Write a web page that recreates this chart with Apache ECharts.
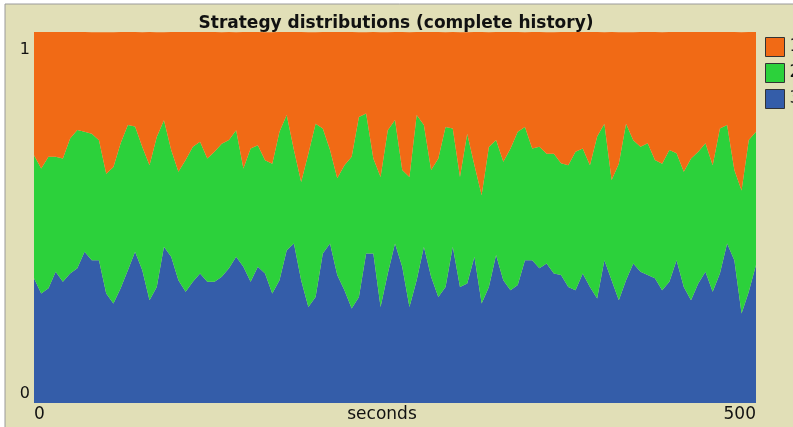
<!DOCTYPE html>
<html>
<head>
<meta charset="utf-8">
<script src="https://cdn.jsdelivr.net/npm/echarts@6/dist/echarts.min.js"></script>
<style>
  html, body { margin: 0; padding: 0; background: #fff; }
  #chart { width: 793px; height: 427px; }
</style>
</head>
<body>
<div id="chart"></div>
<script>
// one sample every 5 seconds, 0..500
var stepSeconds = 5;

// share of strategy 3 (blue, bottom)
var share3 = [
  0.336, 0.295, 0.309, 0.354, 0.327, 0.349, 0.363, 0.408, 0.385, 0.385,
  0.295, 0.268, 0.309, 0.358, 0.408, 0.358, 0.277, 0.313, 0.421, 0.394,
  0.331, 0.300, 0.327, 0.349, 0.327, 0.327, 0.340, 0.363, 0.394, 0.367,
  0.327, 0.367, 0.349, 0.295, 0.331, 0.412, 0.430, 0.331, 0.259, 0.286,
  0.403, 0.430, 0.345, 0.304, 0.255, 0.286, 0.403, 0.403, 0.259, 0.349,
  0.430, 0.367, 0.259, 0.331, 0.421, 0.340, 0.286, 0.313, 0.421, 0.313,
  0.322, 0.394, 0.268, 0.313, 0.399, 0.331, 0.304, 0.318, 0.385, 0.385,
  0.363, 0.376, 0.349, 0.345, 0.313, 0.304, 0.349, 0.313, 0.282, 0.385,
  0.331, 0.277, 0.331, 0.376, 0.354, 0.345, 0.336, 0.304, 0.327, 0.385,
  0.313, 0.277, 0.322, 0.354, 0.300, 0.349, 0.430, 0.385, 0.241, 0.300,
  0.372
];

// share of strategy 2 (green, middle)
var share2 = [
  0.332, 0.337, 0.355, 0.310, 0.332, 0.364, 0.373, 0.323, 0.341, 0.323,
  0.323, 0.368, 0.391, 0.391, 0.337, 0.332, 0.364, 0.404, 0.341, 0.288,
  0.292, 0.355, 0.364, 0.355, 0.332, 0.350, 0.359, 0.346, 0.341, 0.265,
  0.359, 0.328, 0.305, 0.350, 0.400, 0.364, 0.252, 0.265, 0.413, 0.467,
  0.337, 0.252, 0.261, 0.337, 0.409, 0.485, 0.377, 0.256, 0.350, 0.386,
  0.333, 0.261, 0.350, 0.445, 0.328, 0.288, 0.373, 0.431, 0.319, 0.296,
  0.404, 0.247, 0.292, 0.377, 0.310, 0.319, 0.382, 0.413, 0.359, 0.301,
  0.328, 0.296, 0.323, 0.301, 0.328, 0.373, 0.337, 0.328, 0.436, 0.368,
  0.270, 0.368, 0.422, 0.332, 0.337, 0.355, 0.319, 0.341, 0.355, 0.288,
  0.310, 0.382, 0.355, 0.346, 0.341, 0.391, 0.319, 0.243, 0.332, 0.409,
  0.359
];

// share of strategy 1 (orange, top)
var share1 = [
  0.332, 0.368, 0.336, 0.336, 0.341, 0.287, 0.264, 0.269, 0.273, 0.291,
  0.381, 0.363, 0.300, 0.251, 0.255, 0.309, 0.359, 0.282, 0.237, 0.318,
  0.377, 0.345, 0.309, 0.296, 0.341, 0.323, 0.300, 0.291, 0.264, 0.368,
  0.314, 0.305, 0.345, 0.354, 0.269, 0.224, 0.318, 0.404, 0.327, 0.246,
  0.260, 0.318, 0.395, 0.359, 0.336, 0.228, 0.219, 0.341, 0.390, 0.264,
  0.237, 0.372, 0.390, 0.224, 0.251, 0.372, 0.341, 0.255, 0.260, 0.390,
  0.273, 0.359, 0.440, 0.309, 0.291, 0.350, 0.314, 0.269, 0.255, 0.314,
  0.309, 0.327, 0.327, 0.354, 0.359, 0.323, 0.314, 0.359, 0.282, 0.246,
  0.399, 0.354, 0.246, 0.291, 0.309, 0.300, 0.345, 0.354, 0.318, 0.327,
  0.377, 0.341, 0.323, 0.300, 0.359, 0.260, 0.251, 0.372, 0.426, 0.291,
  0.269
];

var yTicks = [0, 1];
var names = ['1', '2', '3'];
var colors = { '1': '#f16a15', '2': '#2cd13b', '3': '#345da9' };

var seconds = share3.map(function (v, i) { return String(i * stepSeconds); });
var lastIndex = seconds.length - 1;

function areaSeries(name, arr) {
  return {
    name: name,
    type: 'line',
    stack: 'total',
    data: arr,
    symbol: 'none',
    silent: true,
    lineStyle: { width: 0 },
    areaStyle: { color: colors[name], opacity: 1 },
    itemStyle: { color: colors[name] }
  };
}

var chart = echarts.init(document.getElementById('chart'));
var option = {
  backgroundColor: '#ffffff',
  animation: false,
  graphic: [{
    type: 'rect',
    z: -10,
    shape: { x: 5, y: 4, width: 800, height: 430 },
    style: { fill: '#e1dfb7', stroke: '#9a9a9a', lineWidth: 1 }
  }],
  title: {
    text: 'Strategy distributions (complete history)',
    left: 391,
    textAlign: 'center',
    top: 10,
    textStyle: { fontFamily: 'DejaVu Sans', fontSize: 17, fontWeight: 'bold', color: '#111' }
  },
  legend: {
    data: names,
    orient: 'vertical',
    left: 760,
    top: 32,
    itemWidth: 19,
    itemHeight: 19,
    itemGap: 6,
    icon: 'rect',
    itemStyle: { borderColor: '#333', borderWidth: 1 },
    textStyle: { fontFamily: 'DejaVu Sans', fontSize: 17, color: '#111' }
  },
  grid: { left: 34, right: 37, top: 32, bottom: 24, outerBoundsMode: 'none', containLabel: false },
  xAxis: {
    type: 'category',
    data: seconds,
    boundaryGap: false,
    name: 'seconds',
    nameLocation: 'middle',
    nameGap: 3,
    nameMoveOverlap: false,
    nameTextStyle: {
      fontFamily: 'DejaVu Sans', fontSize: 17, color: '#111',
      verticalAlign: 'top', padding: [0, 26, 0, 0]
    },
    axisLine: { show: false },
    axisTick: { show: false },
    splitLine: { show: false },
    axisLabel: {
      margin: 3,
      fontFamily: 'DejaVu Sans',
      fontSize: 17,
      color: '#111',
      interval: function (index) { return index === 0 || index === lastIndex; },
      alignMinLabel: 'left',
      alignMaxLabel: 'right'
    }
  },
  yAxis: {
    type: 'value',
    min: yTicks[0],
    max: yTicks[1],
    interval: 1,
    axisLine: { show: false },
    axisTick: { show: false },
    splitLine: { show: false },
    axisLabel: {
      margin: 4,
      fontFamily: 'DejaVu Sans',
      fontSize: 16,
      color: '#111',
      verticalAlignMaxLabel: 'top',
      verticalAlignMinLabel: 'bottom',
      formatter: function (v) { return v === 1 ? '{hi|1}' : '{lo|0}'; },
      rich: {
        hi: { lineHeight: 36, fontSize: 16, fontFamily: 'DejaVu Sans', color: '#111' },
        lo: { lineHeight: 18, fontSize: 16, fontFamily: 'DejaVu Sans', color: '#111' }
      }
    }
  },
  series: [
    areaSeries('3', share3),
    areaSeries('2', share2),
    areaSeries('1', share1)
  ]
};
chart.setOption(option);
</script>
</body>
</html>
